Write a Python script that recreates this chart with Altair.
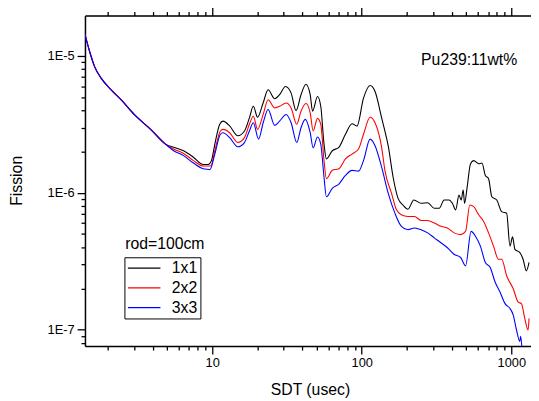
import altair as alt
import pandas as pd

# ---------------- data ----------------
series_names = ["1x1", "2x2", "3x3"]
series_colors = ["#000000", "#ff0000", "#0000ff"]

# common early-time part (all three curves coincide)
head_x = [1.408, 1.519, 1.639, 1.814, 2.112, 2.459, 3.010, 3.879, 4.874]
head_y = [1.448e-5, 1.069e-5, 8.33e-6, 6.86e-6, 5.66e-6, 4.79e-6, 3.74e-6, 2.91e-6, 2.27e-6]

x_1x1 = [5.528, 6.436, 7.495, 8.722, 9.41, 9.89, 10.42, 11.24, 11.82, 13.09, 14.85, 16.44,
         17.74, 18.85, 20.12, 21.88, 23.67, 26.17, 28.23, 30.93, 33.73, 36.39, 39.28, 42.38,
         45.24, 46.92, 50.62, 53.23, 55.97, 58.05, 63.59, 70.31, 77.84, 86.18, 92.97, 102.8,
         113.8, 122.8, 135.9, 142.9, 150.3, 162.2, 175.0, 188.7, 203.7, 223.1, 249.7, 276.0,
         305.6, 329.8, 355.8, 383.9, 403.6, 425.0, 446.9, 462.7, 477.1, 487.3, 507.0, 533.9,
         561.4, 605.7, 636.8, 670.6, 705.1, 741.3, 799.8, 863.0, 931.1, 980.4, 1020, 1058,
         1141, 1200, 1262, 1315]
y_1x1 = [2.15e-6, 2.03e-6, 1.82e-6, 1.61e-6, 1.61e-6, 1.72e-6, 2.27e-6, 3.17e-6, 3.34e-6,
         3.08e-6, 2.61e-6, 2.83e-6, 3.53e-6, 4.29e-6, 3.57e-6, 4.51e-6, 5.66e-6, 4.87e-6,
         5.21e-6, 5.98e-6, 5.35e-6, 3.99e-6, 5.21e-6, 6.21e-6, 5.21e-6, 3.95e-6, 5.06e-6,
         4.29e-6, 2.27e-6, 1.77e-6, 2.03e-6, 2.15e-6, 2.68e-6, 3.20e-6, 3.08e-6, 4.92e-6,
         6.08e-6, 5.50e-6, 3.53e-6, 2.83e-6, 2.21e-6, 1.30e-6, 9.11e-7, 8.15e-7, 7.59e-7,
         8.86e-7, 8.39e-7, 8.47e-7, 7.72e-7, 7.72e-7, 8.86e-7, 8.86e-7, 8.39e-7, 7.51e-7,
         9.63e-7, 8.86e-7, 1.05e-6, 8.39e-7, 1.10e-6, 1.63e-6, 1.72e-6, 1.63e-6, 1.65e-6,
         1.34e-6, 1.27e-6, 9.36e-7, 8.86e-7, 7.29e-7, 7.10e-7, 4.08e-7, 4.77e-7, 3.86e-7,
         3.66e-7, 3.27e-7, 2.69e-7, 3.10e-7]

x_2x2 = [5.528, 6.436, 7.495, 8.722, 9.80, 10.42, 11.35, 11.82, 13.09, 14.85, 16.44, 17.74,
         18.85, 20.12, 21.94, 23.67, 26.17, 28.23, 31.26, 33.73, 36.78, 39.28, 42.38, 45.24,
         47.35, 50.62, 53.23, 55.97, 58.05, 63.59, 70.31, 77.84, 86.18, 95.26, 102.8, 113.8,
         122.8, 135.9, 142.9, 158.3, 170.8, 184.2, 203.7, 225.5, 249.7, 276.0, 305.6, 338.4,
         374.1, 414.2, 458.6, 494.8, 528.2, 561.4, 605.7, 653.5, 705.1, 760.7, 820.7, 863.0,
         931.1, 1031, 1112, 1169, 1231, 1295, 1315]
y_2x2 = [2.09e-6, 1.94e-6, 1.72e-6, 1.57e-6, 1.57e-6, 2.03e-6, 2.83e-6, 2.91e-6, 2.75e-6,
         2.33e-6, 2.53e-6, 3.17e-6, 3.63e-6, 2.91e-6, 3.74e-6, 4.79e-6, 4.17e-6, 4.29e-6,
         4.53e-6, 4.17e-6, 3.17e-6, 3.95e-6, 4.49e-6, 3.84e-6, 2.83e-6, 3.50e-6, 3.17e-6,
         1.72e-6, 1.27e-6, 1.46e-6, 1.50e-6, 1.77e-6, 1.92e-6, 2.09e-6, 2.68e-6, 3.57e-6,
         3.25e-6, 2.15e-6, 1.46e-6, 9.90e-7, 7.51e-7, 6.91e-7, 6.71e-7, 6.71e-7, 6.28e-7,
         6.28e-7, 6.02e-7, 5.69e-7, 5.54e-7, 5.10e-7, 4.95e-7, 5.23e-7, 8.15e-7, 7.93e-7,
         6.91e-7, 6.18e-7, 5.10e-7, 4.08e-7, 3.27e-7, 3.27e-7, 2.48e-7, 1.99e-7, 1.59e-7,
         1.55e-7, 1.21e-7, 9.95e-8, 1.21e-7]

x_3x3 = [5.528, 6.436, 7.495, 8.722, 9.66, 10.42, 11.35, 11.82, 13.09, 14.85, 16.44, 17.74,
         18.85, 20.43, 21.94, 23.67, 26.17, 28.23, 31.26, 33.73, 36.78, 39.28, 41.93, 45.24,
         47.35, 50.62, 53.23, 55.97, 58.05, 63.59, 70.31, 77.84, 86.18, 95.26, 102.8, 113.8,
         122.8, 135.9, 150.3, 166.4, 184.2, 203.7, 225.5, 249.7, 276.0, 305.6, 338.4, 374.1,
         414.2, 458.6, 494.8, 538.8, 576.1, 621.6, 670.6, 723.6, 780.6, 842.1, 908.8, 980.4,
         1031, 1084, 1141, 1155, 1182]
y_3x3 = [2.03e-6, 1.87e-6, 1.65e-6, 1.50e-6, 1.48e-6, 1.92e-6, 2.68e-6, 2.75e-6, 2.53e-6,
         2.17e-6, 2.33e-6, 2.83e-6, 3.25e-6, 2.47e-6, 3.25e-6, 4.06e-6, 3.11e-6, 3.34e-6,
         3.74e-6, 3.25e-6, 2.33e-6, 2.99e-6, 3.44e-6, 2.75e-6, 2.13e-6, 2.56e-6, 2.27e-6,
         1.30e-6, 9.36e-7, 1.08e-6, 1.16e-6, 1.34e-6, 1.46e-6, 1.44e-6, 1.72e-6, 2.47e-6,
         2.21e-6, 1.54e-6, 9.95e-7, 7.14e-7, 5.69e-7, 5.38e-7, 5.54e-7, 5.38e-7, 5.10e-7,
         4.69e-7, 4.32e-7, 3.97e-7, 3.56e-7, 3.37e-7, 2.93e-7, 5.23e-7, 4.82e-7, 4.08e-7,
         3.10e-7, 2.85e-7, 2.22e-7, 1.88e-7, 1.55e-7, 1.43e-7, 1.28e-7, 9.95e-8, 8.21e-8,
         8.96e-8, 7.10e-8]

ann_text = ["Pu239:11wt%", "rod=100cm"]
ann_x = [249.5, 2.62]
ann_y = [9.36e-6, 4.2e-7]

x_ticks = [2, 3, 4, 5, 6, 7, 8, 9, 10, 20, 30, 40, 50, 60, 70, 80, 90,
           100, 200, 300, 400, 500, 600, 700, 800, 900, 1000]
y_ticks = [8e-8, 9e-8, 1e-7, 2e-7, 3e-7, 4e-7, 5e-7, 6e-7, 7e-7, 8e-7, 9e-7,
           1e-6, 2e-6, 3e-6, 4e-6, 5e-6, 6e-6, 7e-6, 8e-6, 9e-6, 1e-5]
x_domain = [1.411, 1355]
y_domain = [7.59e-8, 1.975e-5]

# ---------------- build tables ----------------
rows = []
for name, xs, ys in zip(series_names, [x_1x1, x_2x2, x_3x3], [y_1x1, y_2x2, y_3x3]):
    for xv, yv in zip(head_x + xs, head_y + ys):
        rows.append({"series": name, "x": xv, "y": yv})
df = pd.DataFrame(rows)
ann_df = pd.DataFrame({"text": ann_text, "x": ann_x, "y": ann_y})

FONT = "Liberation Sans"
xscale = alt.Scale(type="log", domain=x_domain, nice=False)
yscale = alt.Scale(type="log", domain=y_domain, nice=False)

x_major_test = "datum.value == 10 || datum.value == 100 || datum.value == 1000"
y_major_test = "datum.value == 1e-5 || datum.value == 1e-6 || datum.value == 1e-7"

common_axis = dict(
    tickColor="black", tickWidth=1.3, domainColor="black", domainWidth=1.5,
    labelFont=FONT, labelFontSize=13, labelColor="black", labelOverlap=False,
    labelFlush=False, grid=False, titleFont=FONT, titleFontSize=16,
    titleFontWeight="normal", titleColor="black",
)

bottom_axis = alt.Axis(
    orient="bottom", values=x_ticks,
    labelExpr="(" + x_major_test + ") ? format(datum.value, 'd') : ''",
    tickSize={"condition": {"test": x_major_test, "value": 8}, "value": 4},
    labelPadding=3, title="SDT (usec)", titleX=228, titleY=44,
    titleBaseline="middle", **common_axis,
)
top_axis = alt.Axis(
    orient="top", values=x_ticks, labels=False, title="",
    tickSize={"condition": {"test": x_major_test, "value": 8}, "value": 4},
    **common_axis,
)
left_axis = alt.Axis(
    orient="left", values=y_ticks,
    labelExpr="datum.value == 1e-5 ? '1E-5' : datum.value == 1e-6 ? '1E-6' : "
              "datum.value == 1e-7 ? '1E-7' : ''",
    tickSize={"condition": {"test": y_major_test, "value": 8}, "value": 4},
    labelPadding=3, title="Fission", titleX=-69, titleY=167,
    titleBaseline="middle", **common_axis,
)

lines = alt.Chart(df).mark_line(strokeWidth=1.1, clip=True, interpolate="monotone").encode(
    x=alt.X("x:Q", scale=xscale, axis=bottom_axis),
    y=alt.Y("y:Q", scale=yscale, axis=left_axis),
    color=alt.Color(
        "series:N",
        scale=alt.Scale(domain=series_names, range=series_colors),
        legend=alt.Legend(
            orient="none", legendX=40, legendY=245, title=None,
            strokeColor="black", padding=3, symbolType="M-4,0H4",
            symbolSize=68, symbolStrokeWidth=1.2, symbolOffset=9,
            labelFont=FONT, labelFontSize=16, labelColor="black",
            rowPadding=4, labelOffset=20,
        ),
    ),
)

texts = alt.Chart(ann_df).mark_text(
    align="left", baseline="middle", font=FONT, fontSize=16, color="black"
).encode(
    x=alt.X("x:Q", scale=xscale, axis=top_axis),
    y=alt.Y("y:Q", scale=yscale, axis=left_axis),
    text="text:N",
)

chart = alt.layer(lines, texts).properties(
    width=452, height=335,
    autosize=alt.AutoSizeParams(type="none"),
    padding={"left": 78, "top": 5, "right": 0, "bottom": 52},
).configure_view(strokeWidth=0).configure(font=FONT)

chart.save("out.html", embed_options={"renderer": "svg", "actions": False})
